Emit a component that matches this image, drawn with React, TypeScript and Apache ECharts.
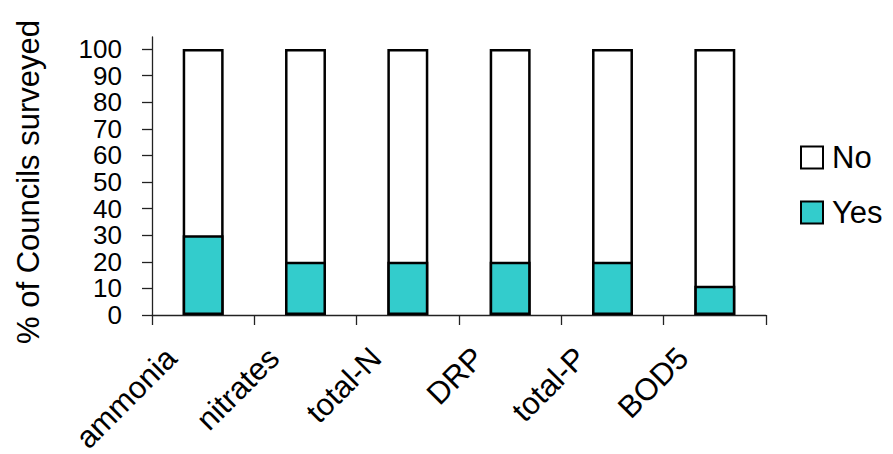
import React, { useEffect, useRef } from "react";
import * as echarts from "echarts";

const categories = ["ammonia", "nitrates", "total-N", "DRP", "total-P", "BOD5"];
const yesValues = [30, 20, 20, 20, 20, 11];
const noValues = [70, 80, 80, 80, 80, 89];
const seriesNames = ["No", "Yes"];
const yTicks = { min: 0, max: 100, interval: 10 };

export default function App() {
  const ref = useRef<HTMLDivElement>(null);
  useEffect(() => {
    document.body.style.margin = "0";
    const chart = echarts.init(ref.current!, null, { renderer: "svg" });
    const font = "Liberation Sans, Arial, sans-serif";
    const axisColor = "#222";
    // "No" segment is drawn as the full stacked column (Yes + No) behind the "Yes" bar,
    // so the joint between the two segments is a single border line.
    const noTop = noValues.map((v, i) => v + yesValues[i]);
    chart.setOption({
      animation: false,
      textStyle: { fontFamily: font },
      grid: [
        { left: 152, right: 127, top: 49, bottom: 139, containLabel: false, outerBoundsMode: "none" },
        { left: 152, right: 127, top: 37, bottom: 139, containLabel: false, outerBoundsMode: "none" },
      ],
      legend: {
        orient: "vertical",
        left: 800,
        top: 142,
        padding: 0,
        itemWidth: 22,
        itemHeight: 22,
        itemGap: 24,
        icon: "rect",
        data: seriesNames,
        textStyle: { fontSize: 31, color: "#000", fontFamily: font, padding: [0, 0, 0, 4] },
      },
      xAxis: [
        {
          type: "category",
          gridIndex: 0,
          data: categories,
          axisLine: { show: true, lineStyle: { color: axisColor, width: 1.3 } },
          axisTick: { show: true, length: 10, lineStyle: { color: axisColor, width: 1.3 } },
          axisLabel: {
            rotate: 45,
            fontSize: 31,
            color: "#000",
            fontFamily: font,
            margin: 6,
            padding: [0, 45, 0, 0],
            interval: 0,
          },
        },
        {
          type: "category",
          gridIndex: 1,
          data: categories,
          show: false,
        },
      ],
      yAxis: [
        {
          type: "value",
          gridIndex: 0,
          min: yTicks.min,
          max: yTicks.max,
          interval: yTicks.interval,
          position: "left",
          name: "% of Councils surveyed",
          nameLocation: "middle",
          nameGap: 108,
          nameTextStyle: { fontSize: 31, color: "#000", fontFamily: font },
          axisLine: { show: false },
          axisTick: { show: true, length: 10, lineStyle: { color: axisColor, width: 1.3 } },
          axisLabel: {
            fontSize: 26,
            color: "#000",
            fontFamily: font,
            margin: 30,
            lineHeight: 26,
          },
          splitLine: { show: false },
        },
        {
          type: "value",
          gridIndex: 1,
          min: 0,
          max: 1,
          position: "left",
          axisLine: { show: true, onZero: false, lineStyle: { color: axisColor, width: 1.3 } },
          axisTick: { show: false },
          axisLabel: { show: false },
          splitLine: { show: false },
        },
      ],
      series: [
        {
          name: "No",
          type: "bar",
          xAxisIndex: 0,
          yAxisIndex: 0,
          barWidth: "40%",
          barGap: "-100%",
          z: 2,
          data: noTop,
          itemStyle: { color: "#FFFFFF", borderColor: "#000", borderWidth: 2.5 },
        },
        {
          name: "Yes",
          type: "bar",
          xAxisIndex: 0,
          yAxisIndex: 0,
          barWidth: "40%",
          barGap: "-100%",
          z: 3,
          data: yesValues,
          itemStyle: { color: "#33CCCC", borderColor: "#000", borderWidth: 2.5 },
        },
      ],
    });
    return () => chart.dispose();
  }, []);
  return <div ref={ref} style={{ width: 893, height: 454 }} />;
}
